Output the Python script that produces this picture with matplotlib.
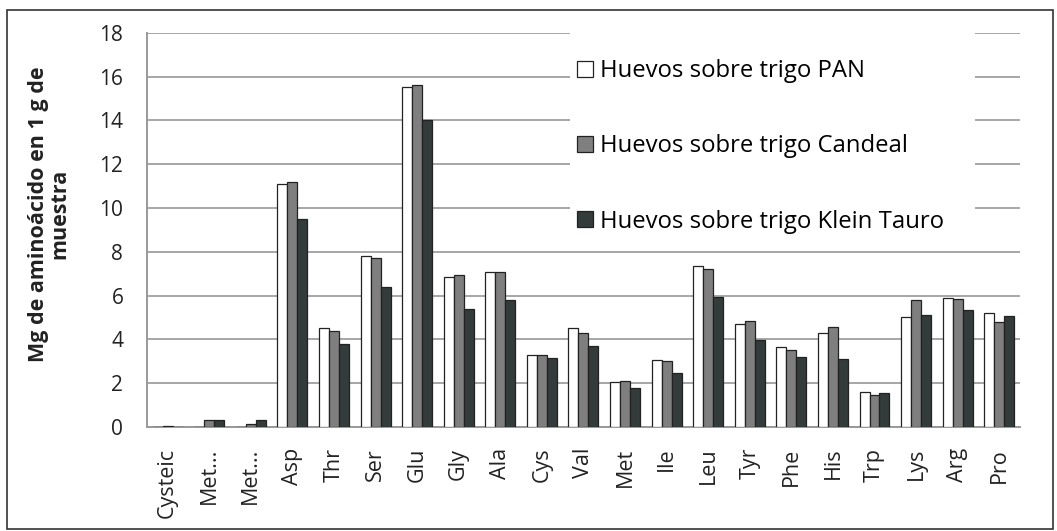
import matplotlib.pyplot as plt
import numpy as np
from matplotlib.patches import Rectangle

categories = ['Cysteic', 'Met...', 'Met...', 'Asp', 'Thr', 'Ser', 'Glu', 'Gly', 'Ala', 'Cys', 'Val',
              'Met', 'Ile', 'Leu', 'Tyr', 'Phe', 'His', 'Trp', 'Lys', 'Arg', 'Pro']
pan = [0, 0, 0, 11.1, 4.5, 7.8, 15.55, 6.85, 7.1, 3.3, 4.5,
       2.05, 3.05, 7.35, 4.7, 3.65, 4.3, 1.6, 5.0, 5.9, 5.2]
candeal = [0.05, 0.3, 0.15, 11.2, 4.4, 7.7, 15.6, 6.95, 7.1, 3.3, 4.3,
           2.1, 3.0, 7.2, 4.85, 3.5, 4.55, 1.45, 5.8, 5.85, 4.8]
klein = [0, 0.3, 0.3, 9.5, 3.8, 6.4, 14.0, 5.4, 5.8, 3.15, 3.7,
         1.8, 2.45, 5.95, 3.95, 3.2, 3.1, 1.55, 5.1, 5.35, 5.05]
series_names = ['Huevos sobre trigo PAN', 'Huevos sobre trigo Candeal', 'Huevos sobre trigo Klein Tauro']
colors = ['white', '#7f7f7f', '#333b3b']

plt.rcParams['font.family'] = ['Open Sans', 'DejaVu Sans']

fig = plt.figure(figsize=(10.57, 5.31), dpi=100)
fig.patches.append(Rectangle((0.0066, 0.004), 0.9896, 0.977, transform=fig.transFigure,
                             fill=False, edgecolor='#333333', linewidth=1.2))
ax = fig.add_axes([0.139, 0.196, 0.826, 0.742])

x = np.arange(len(categories))
w = 0.24
for i, (vals, name, c) in enumerate(zip([pan, candeal, klein], series_names, colors)):
    ax.bar(x + (i - 1) * w, vals, w, color=c, edgecolor='#222222', linewidth=0.9, label=name, zorder=3)

ax.set_xlim(-0.5, len(categories) - 0.5)
ax.set_ylim(0, 18)
ax.set_yticks(range(0, 19, 2))
ax.set_xticks(x)
ax.set_xticklabels(categories, rotation=90, fontsize=15.5, color='#222222')
ax.tick_params(axis='y', labelsize=15, colors='#222222', length=0, pad=17)
ax.tick_params(axis='x', length=0, pad=15)
ax.yaxis.grid(True, color='#a6a6a6', linewidth=1.4, zorder=0)
ax.set_axisbelow(True)
for s in ['top', 'right']:
    ax.spines[s].set_visible(False)
ax.spines['left'].set_color('#999999')
ax.spines['bottom'].set_color('#999999')
ax.spines['left'].set_linewidth(1.4)
ax.spines['bottom'].set_linewidth(1.4)

ax.set_ylabel('Mg de aminoácido en 1 g de\nmuestra', fontsize=15.5, fontweight='bold', color='#222222',
              va='center', linespacing=1.0)
ax.yaxis.set_label_coords(-0.112, 0.54)

# white area behind the legend hides the gridlines
ax.add_patch(Rectangle((0.485, 0.475), 0.463, 0.54, transform=ax.transAxes, facecolor='white',
                       edgecolor='none', zorder=2, clip_on=False))
leg = ax.legend(loc='center left', bbox_to_anchor=(0.493, 0.712), fontsize=17.2, frameon=False,
                labelspacing=2.15, handlelength=0.65, handleheight=0.65, handletextpad=0.3,
                borderpad=0, borderaxespad=0)
leg.set_zorder(5)

plt.savefig('out.png', dpi=100)
